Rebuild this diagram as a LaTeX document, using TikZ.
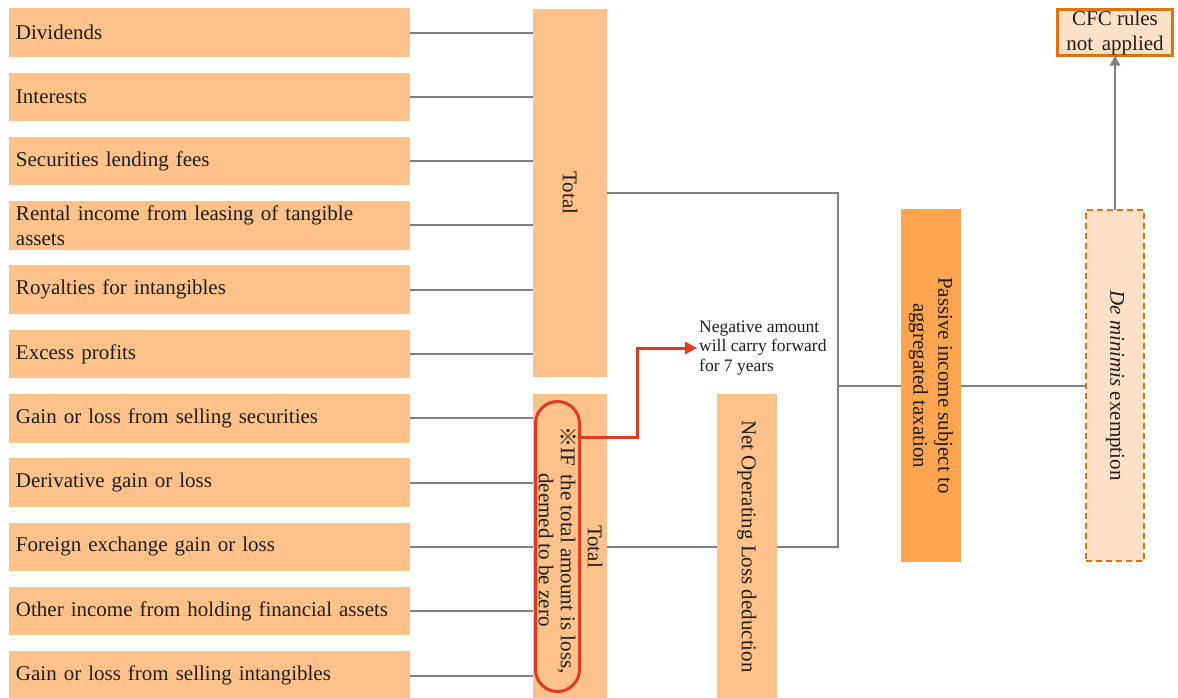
\documentclass[tikz,border=0pt]{standalone}
\usepackage{fontspec}
\setmainfont{Liberation Serif}
\newfontfamily\cjkfont{Noto Sans CJK JP}
\usetikzlibrary{positioning, arrows.meta}

\definecolor{peach}{HTML}{FFC28A}
\definecolor{deeporange}{HTML}{FFA54F}
\definecolor{paleorange}{HTML}{FDE0C5}
\definecolor{rimorange}{HTML}{E0720F}
\definecolor{linegray}{HTML}{808080}
\definecolor{alertred}{HTML}{E03A22}
\definecolor{inkgray}{HTML}{1E1E1E}

\tikzset{
  income/.style={fill=peach, text width=387pt, inner xsep=7pt, inner ysep=0pt,
    minimum height=48.5pt, align=left},
  sumbox/.style={fill=peach, inner sep=0pt},
  link/.style={draw=linegray, line width=2pt},
}

\begin{document}
\begin{tikzpicture}[x=1pt, y=1pt, node distance=64.3pt, on grid,
    font=\fontsize{21pt}{25pt}\selectfont, text=inkgray]
   \useasboundingbox (0,0) rectangle (1178,-697);

   % income items
   \node[income] (d1) at (209.5,-32.5) {Dividends};
   \node[income] (d2) [below=of d1] {Interests};
   \node[income] (d3) [below=of d2] {Securities lending fees};
   \node[income] (d4) [below=of d3] {Rental income from leasing of tangible\\assets};
   \node[income] (d5) [below=of d4] {Royalties for intangibles};
   \node[income] (d6) [below=of d5] {Excess profits};
   \node[income] (d7) [below=of d6] {Gain or loss from selling securities};
   \node[income] (d8) [below=of d7] {Derivative gain or loss};
   \node[income] (d9) [below=of d8] {Foreign exchange gain or loss};
   \node[income] (d10) [below=of d9] {Other income from holding financial assets};
   \node[income] (d11) [below=of d10] {Gain or loss from selling intangibles};

   % totals
   \node[sumbox, minimum width=74pt, minimum height=368pt] (tot1) at (570,-193) {};
   \node[rotate=-90] at (tot1) {Total};
   \node[sumbox, minimum width=74pt, minimum height=305pt] (tot2) at (570,-546.5) {};
   \node[rotate=-90] at (595,-546.5) {Total};
   \node[draw=alertred, line width=3pt, rounded corners=22pt, minimum width=44pt,
     minimum height=290pt, inner sep=0pt] (zero) at (557.5,-546.5) {};
   \node[rotate=-90, align=center, font=\fontsize{21pt}{22pt}\selectfont]
     at (557.5,-550) {{\cjkfont ※}IF\, the total amount is loss,\\deemed to be zero};

   \node[align=left, anchor=west, inner sep=2pt,
     font=\fontsize{17.5pt}{19.5pt}\selectfont] (carry) at (697,-348)
     {Negative amount\\will carry forward\\for 7 years};

   \node[sumbox, minimum width=60pt, minimum height=305pt] (nol) at (747,-546.5) {};
   \node[rotate=-90] at (nol) {Net Operating Loss deduction};

   \node[sumbox, fill=deeporange, minimum width=60pt, minimum height=353pt] (pas) at (931,-385.5) {};
   \node[rotate=-90, align=center] at (pas) {Passive income subject to\\aggregated taxation};

   \node[sumbox, fill=paleorange, draw=rimorange, dash pattern=on 6pt off 4pt,
     line width=2pt, minimum width=58pt, minimum height=351pt, outer sep=0pt]
     (dem) at (1115,-385.5) {};
   \node[rotate=-90] at (dem) {\textit{De minimis} exemption};

   \node[fill=paleorange, draw=rimorange, line width=3pt, align=center, inner sep=0pt,
     minimum width=115pt, minimum height=46pt, outer sep=0pt] (cfc) at (1115,-32.5)
     {CFC rules\\not\, applied};

   \coordinate (jn) at (838,-385.5);

   \path[link]
    (d1.east) edge (d1.east -| tot1.west)
    (d2.east) edge (d2.east -| tot1.west)
    (d3.east) edge (d3.east -| tot1.west)
    (d4.east) edge (d4.east -| tot1.west)
    (d5.east) edge (d5.east -| tot1.west)
    (d6.east) edge (d6.east -| tot1.west)
    (d7.east) edge (d7.east -| tot2.west)
    (d8.east) edge (d8.east -| tot2.west)
    (d9.east) edge (d9.east -| tot2.west)
    (d10.east) edge (d10.east -| tot2.west)
    (d11.east) edge (d11.east -| tot2.west);

   \draw[link] (tot1.east) -| (jn) |- (nol.east);
   \draw[link] (jn) -- (pas.west);
   \draw[link] (tot2.east) -- (nol.west);
   \draw[link] (pas.east) -- (dem.west);
   \draw[link, -{Triangle[width=10pt, length=10pt]}] (dem.north) -- (cfc.south);
   \draw[alertred, line width=3pt, -{Triangle[width=12pt, length=12pt]}]
     (zero.east |- 0,-437) -| (637,-348) -- (carry.west);
\end{tikzpicture}
\end{document}
